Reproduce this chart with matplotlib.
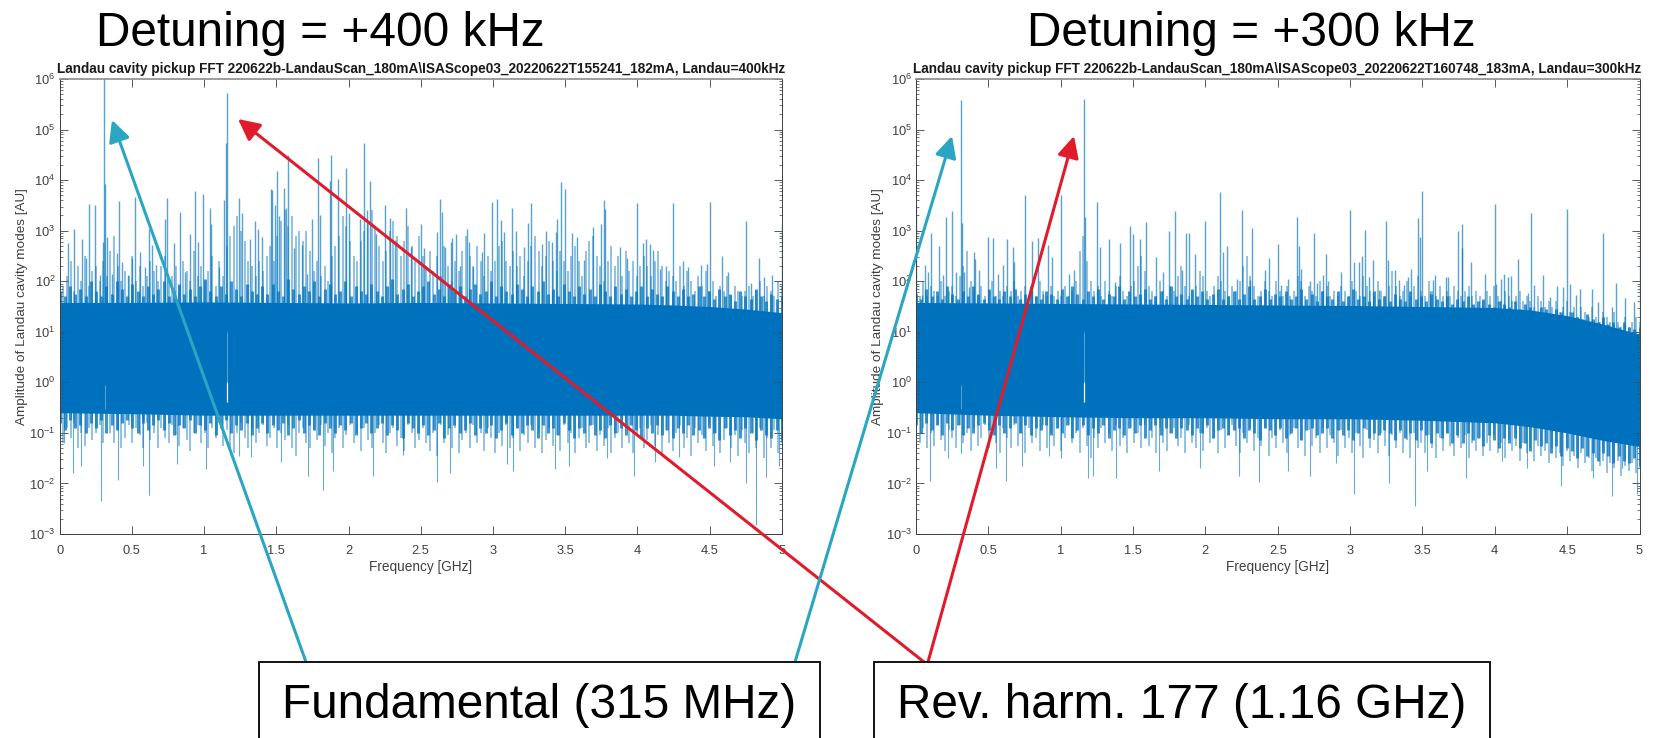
"""Landau cavity pickup FFT, two detunings, with slide annotations on top."""

import matplotlib

matplotlib.use("Agg", force=True)
import matplotlib.pyplot as plt
import numpy as np
from matplotlib.patches import FancyArrowPatch, Rectangle
from matplotlib.ticker import LogFormatterMathtext, LogLocator, NullFormatter

W, H = 1653, 738
BLUE = "#0072BD"
TEAL = "#2BA6C2"
RED = "#E01C2C"
GREY = "#404040"

plt.rcParams["font.family"] = ["Liberation Sans", "DejaVu Sans"]
plt.rcParams["mathtext.fontset"] = "custom"
plt.rcParams["mathtext.rm"] = "Liberation Sans"
plt.rcParams["mathtext.default"] = "regular"

# amplitudes are kept as log10(AU), read against the decade ticks
left_peak_f = [
    0.06, 0.10, 0.152, 0.18, 0.203, 0.245, 0.28, 0.30, 0.31, 0.314, 0.326, 0.36, 0.395, 0.413, 0.43, 0.47,
    0.50, 0.524, 0.557, 0.59, 0.62, 0.64, 0.67, 0.73, 0.746, 0.795, 0.836, 0.87, 0.905, 0.938, 0.956, 0.995,
    1.04, 1.05, 1.10, 1.14, 1.152, 1.157, 1.245, 1.26, 1.32, 1.355, 1.37, 1.40, 1.46, 1.473, 1.49, 1.505,
    1.52, 1.55, 1.565, 1.584, 1.625, 1.68, 1.71, 1.75, 1.787, 1.80, 1.87, 1.88, 1.925, 1.984, 2.0, 2.08,
    2.104, 2.125, 2.15, 2.19, 2.25, 2.29, 2.32, 2.40, 2.43, 2.5, 2.52, 2.61, 2.634, 2.65, 2.67, 2.71,
    2.72, 2.745, 2.77, 2.82, 2.835, 2.86, 2.925, 2.94, 2.996, 3.027, 3.056, 3.076, 3.13, 3.16, 3.215, 3.245,
    3.265, 3.34, 3.37, 3.41, 3.435, 3.447, 3.47, 3.5, 3.546, 3.58, 3.63, 3.69, 3.75, 3.77, 3.777, 3.88,
    3.93, 4.0, 4.04, 4.06, 4.09, 4.11, 4.16, 4.2, 4.25, 4.315, 4.35, 4.44, 4.48, 4.5, 4.59, 4.63,
    4.75, 4.79, 4.84, 4.88, 4.93, 5.0,
]
left_peak_exp = [
    2.75, 3.04, 2.84, 2.45, 3.52, 3.5, 2.12, 2.78, 6.1, 3.93, 2.88, 2.15, 2.55, 3.58, 2.38, 2.12,
    2.45, 3.66, 2.58, 2.28, 3.04, 2.71, 2.32, 3.23, 3.65, 2.76, 3.37, 2.18, 2.93, 3.78, 2.78, 3.72,
    3.45, 3.14, 2.28, 3.6, 4.73, 5.72, 3.64, 3.34, 2.84, 3.2, 3.04, 2.88, 3.82, 3.8, 3.5, 4.18,
    3.3, 3.85, 3.44, 4.5, 2.65, 2.71, 2.15, 3.23, 4.43, 3.31, 3.98, 4.5, 4.03, 4.23, 3.34, 3.24,
    4.73, 3.41, 3.99, 2.94, 3.5, 3.25, 2.81, 3.44, 2.68, 3.14, 2.66, 2.98, 3.62, 3.36, 2.67, 2.78,
    2.86, 2.93, 2.3, 3.04, 2.77, 2.28, 2.57, 2.96, 3.56, 3.62, 3.22, 2.98, 3.45, 3.0, 2.67, 3.16,
    3.54, 2.73, 3.0, 2.78, 2.98, 3.24, 3.96, 3.83, 2.96, 2.87, 2.42, 3.08, 3.13, 3.6, 3.42, 2.67,
    2.46, 3.54, 2.75, 2.84, 2.73, 2.61, 2.25, 2.3, 3.54, 2.4, 2.29, 2.33, 2.34, 3.57, 2.5, 2.18,
    3.19, 1.97, 2.45, 2.09, 2.13, 3.14,
]
left_grass_exp = [
    2.2, 1.9, 2.1, 2.4, 1.8, 2.3, 2.0, 2.5, 1.9, 2.2, 2.3, 2.0, 2.4, 2.1, 2.6, 2.9, 2.3, 2.0, 2.2, 2.1,
    2.5, 2.0, 2.3, 1.9, 2.1, 2.4, 2.2, 2.0, 2.3, 2.5, 2.0, 2.1, 2.3, 1.9, 2.4, 2.2, 2.0, 2.6, 2.1, 2.3,
    2.0, 2.2, 2.5, 1.9, 2.4, 2.1, 2.7, 2.9, 3.1, 3.3, 3.0, 2.8, 2.4, 2.3, 2.1, 2.4, 2.2, 2.5, 2.7, 2.4,
    2.9, 3.2, 3.4, 3.1, 3.3, 2.9, 3.0, 2.8, 3.0, 2.6, 2.2, 2.4, 2.1, 2.3, 2.0, 2.5, 2.7, 2.9, 3.3, 3.1,
    2.8, 2.5, 2.4, 2.8, 3.0, 3.2, 3.4, 3.1, 2.7, 2.4, 2.6, 3.0, 3.2, 2.9, 2.5, 2.8, 3.1, 2.7, 2.4, 2.9,
    2.5, 2.3, 2.6, 2.2, 2.5, 2.1, 2.7, 2.3, 2.0, 2.4, 2.2, 2.6, 2.9, 2.5, 2.3, 2.7, 2.4, 2.1, 2.5, 2.2,
    2.4, 2.7, 2.8, 2.4, 2.3, 2.6, 2.3, 2.5, 2.1, 2.4, 2.7, 2.9, 2.6, 2.3, 2.5, 2.8, 2.4, 2.2, 2.6, 2.4,
    2.2, 2.5, 2.7, 2.4, 2.1, 2.6, 2.8, 2.9, 2.5, 2.3, 2.0, 2.4, 2.7, 2.3, 2.5, 2.1, 2.6, 2.2, 2.4, 2.1,
    2.3, 2.5, 2.3, 2.1, 2.4, 2.6, 2.3, 2.0, 2.2, 2.1, 2.0, 2.3, 1.9, 2.2, 2.0, 1.8, 2.1, 1.9, 2.2, 1.8,
    2.0, 1.7, 1.9, 1.8, 2.1, 1.7, 1.9, 1.8, 1.7, 1.8, 1.9, 1.7, 1.8, 2.0, 1.7, 1.9, 1.8, 1.7, 2.0, 1.9,
]
left_top_fuzz = [
    1.8, 1.7, 1.9, 1.75, 1.85, 1.7, 2.0, 1.8, 1.7, 1.9, 1.75, 2.0, 1.85, 1.7, 1.95, 1.8, 1.7, 1.9, 1.75, 1.85,
    2.0, 1.7, 1.8, 1.95, 1.75, 1.85, 1.7, 1.9, 2.05, 1.8, 1.7, 1.9, 1.75, 2.0, 1.85, 1.7, 1.95, 1.8, 1.75, 1.9,
    1.75, 1.95, 1.8, 1.7, 2.05, 1.85, 1.75, 1.9, 1.8, 2.0, 1.7, 1.85, 1.95, 1.75, 1.8, 2.0, 1.7, 1.9, 1.8, 1.75,
    1.95, 1.8, 1.7, 1.9, 2.05, 1.75, 1.85, 1.95, 1.7, 1.8, 1.9, 2.0, 1.75, 1.85, 1.7, 1.95, 1.8, 1.9, 1.7, 1.85,
    1.95, 1.75, 1.8, 2.0, 1.7, 1.9, 1.8, 1.75, 1.95, 1.85, 1.7, 1.9, 1.8, 2.0, 1.75, 1.85, 1.7, 1.95, 1.8, 1.7,
    1.9, 1.75, 1.85, 1.7, 1.95, 1.8, 1.7, 1.9, 1.75, 1.85, 1.7, 1.8, 1.9, 1.7, 1.85, 1.75, 1.7, 1.9, 1.8, 1.7,
    1.85, 1.7, 1.75, 1.9, 1.7, 1.8, 1.65, 1.85, 1.7, 1.75, 1.6, 1.8, 1.7, 1.65, 1.85, 1.7, 1.6, 1.75, 1.65, 1.7,
]
left_dip_f = [
    0.03, 0.09, 0.15, 0.286, 0.405, 0.58, 0.62, 0.81, 1.01, 1.24, 1.325, 1.53, 1.72, 1.82, 1.89, 2.17,
    2.38, 2.61, 2.70, 3.10, 3.14, 3.43, 3.53, 3.79, 3.98, 4.12, 4.29, 4.53, 4.64, 4.75, 4.82, 4.89, 4.98,
]
left_dip_exp = [
    -1.2, -1.8, -1.65, -2.35, -1.93, -1.66, -2.23, -1.62, -1.72, -1.46, -1.48, -1.57, -1.85, -2.13, -1.75, -1.85,
    -1.43, -1.97, -1.8, -1.62, -1.75, -1.72, -1.66, -1.5, -1.85, -1.57, -1.48, -1.66, -1.57, -2.0, -2.82, -1.87, -1.66,
]
left_low_exp = [
    -1.0, -1.2, -0.9, -1.1, -0.8, -1.3, -1.0, -1.25, -0.9, -1.15, -1.0, -0.85, -1.2, -0.6, -1.0, -1.2, -0.95, -1.3, -1.1, -0.85,
    -1.2, -0.9, -1.05, -1.3, -0.8, -1.15, -1.0, -1.3, -0.9, -1.1, -1.2, -0.85, -1.05, -1.25, -0.9, -1.15, -1.35, -1.0, -0.85, -1.2,
    -1.0, -1.3, -0.9, -1.1, -0.8, -1.25, -0.95, -1.3, -1.4, -1.0, -0.8, -1.1, -1.3, -0.9, -1.2, -1.0, -0.85, -1.25, -1.1, -0.9,
    -1.3, -1.0, -1.15, -0.85, -1.3, -1.45, -1.0, -0.9, -1.2, -1.3, -0.95, -1.15, -0.85, -1.25, -1.0, -1.4, -1.1, -0.9, -1.3, -1.05,
    -0.85, -1.2, -1.0, -1.35, -0.9, -1.15, -1.3, -1.0, -0.85, -1.2, -1.4, -1.0, -0.9, -1.25, -1.1, -1.35, -0.85, -1.0, -1.3, -1.15,
    -0.9, -1.2, -1.35, -1.0, -1.45, -0.85, -1.2, -1.05, -1.3, -0.9, -1.4, -1.15, -1.0, -1.3, -0.85, -1.2, -1.0, -1.35, -0.9, -1.1,
    -1.4, -1.0, -1.25, -0.85, -1.3, -1.1, -0.9, -1.35, -1.05, -1.2, -0.85, -1.3, -1.0, -1.4, -1.15, -0.9, -1.25, -1.05, -1.35, -0.85,
    -1.2, -1.0, -1.4, -1.1, -0.9, -1.3, -1.2, -0.85, -1.35, -1.05, -1.25, -0.9, -1.4, -1.1, -1.0, -1.3, -0.85, -1.2, -1.4, -1.0,
    -0.9, -1.3, -1.15, -0.85, -1.25, -1.05, -1.4, -0.95, -1.2, -1.35, -1.0, -0.85, -1.3, -1.1, -1.45, -0.9, -1.2, -1.05, -1.35, -0.85,
    -1.25, -1.0, -1.4, -1.15, -0.9, -1.3, -1.05, -1.45, -0.95, -1.2, -1.4, -1.0, -1.3, -0.9, -1.5, -1.1, -1.3, -0.95, -1.4, -1.2,
]
left_low_fuzz = [
    -0.8, -0.95, -0.75, -0.9, -0.85, -1.0, -0.8, -0.9, -0.75, -1.0, -0.85, -0.95, -0.8, -0.75, -0.9, -1.0, -0.8, -0.95, -0.85, -0.75,
    -0.95, -0.8, -1.05, -0.85, -0.9, -0.75, -1.0, -0.85, -0.95, -0.8, -1.05, -0.9, -0.75, -1.0, -0.85, -0.95, -0.8, -1.05, -0.9, -0.8,
    -1.0, -0.85, -0.95, -0.8, -1.05, -0.9, -0.75, -1.0, -0.85, -0.95, -1.05, -0.8, -0.9, -1.0, -0.85, -0.95, -0.8, -1.05, -0.9, -0.8,
    -1.0, -0.9, -0.8, -1.05, -0.85, -0.95, -1.1, -0.8, -0.9, -1.0, -0.85, -1.05, -0.95, -0.8, -1.1, -0.9, -0.85, -1.0, -0.95, -0.8,
    -1.05, -0.9, -1.0, -0.85, -1.1, -0.95, -0.8, -1.05, -0.9, -1.0, -0.85, -0.95, -1.1, -0.85, -1.0, -0.9, -1.05, -0.8, -0.95, -1.1,
    -0.9, -1.0, -0.85, -1.05, -0.95, -1.1, -0.85, -1.0, -0.9, -1.05, -0.85, -0.95, -1.1, -0.9, -1.0, -0.85, -1.05, -0.95, -1.1, -0.9,
    -1.0, -0.85, -1.05, -0.95, -1.1, -0.9, -1.0, -1.15, -0.9, -1.05, -0.95, -1.1, -0.9, -1.0, -1.15, -0.95, -1.05, -1.1, -0.95, -1.15,
]

right_peak_f = [
    0.0, 0.04, 0.065, 0.085, 0.105, 0.157, 0.185, 0.21, 0.25, 0.275, 0.314, 0.316, 0.335, 0.365, 0.40, 0.41,
    0.435, 0.50, 0.53, 0.565, 0.60, 0.63, 0.667, 0.68, 0.75, 0.80, 0.84, 0.88, 0.91, 0.943, 1.0, 1.056,
    1.095, 1.16, 1.165, 1.25, 1.273, 1.333, 1.377, 1.41, 1.476, 1.5, 1.55, 1.587, 1.66, 1.71, 1.75, 1.79,
    1.835, 1.868, 1.885, 1.925, 2.0, 2.103, 2.12, 2.15, 2.22, 2.25, 2.31, 2.32, 2.41, 2.44, 2.5, 2.52,
    2.57, 2.634, 2.65, 2.66, 2.72, 2.75, 2.77, 2.815, 2.835, 2.85, 2.94, 3.0, 3.03, 3.06, 3.08, 3.105,
    3.13, 3.157, 3.2, 3.245, 3.265, 3.31, 3.335, 3.37, 3.4, 3.42, 3.466, 3.48, 3.5, 3.55, 3.57, 3.59,
    3.66, 3.68, 3.745, 3.77, 3.775, 3.835, 3.935, 4.0, 4.01, 4.04, 4.065, 4.09, 4.11, 4.16, 4.23, 4.25,
    4.27, 4.33, 4.38, 4.43, 4.47, 4.5, 4.52, 4.56, 4.59, 4.675, 4.71, 4.75, 4.81, 4.84, 4.9, 4.96, 5.0,
]
right_peak_exp = [
    3.5, 1.72, 2.32, 2.18, 2.96, 2.7, 2.13, 3.27, 3.39, 2.18, 5.58, 3.16, 2.18, 1.89, 2.58, 2.43,
    2.22, 2.88, 2.86, 2.15, 2.33, 2.83, 2.67, 2.38, 3.7, 2.79, 2.86, 1.75, 2.71, 2.48, 3.7, 2.15,
    2.22, 5.6, 3.27, 3.57, 2.67, 2.84, 1.99, 2.76, 3.09, 2.94, 2.83, 3.17, 2.47, 2.18, 3.0, 3.39,
    2.22, 2.96, 2.96, 2.53, 3.2, 3.76, 2.58, 2.7, 2.05, 3.41, 2.02, 3.06, 2.22, 2.45, 2.73, 1.93,
    2.05, 3.27, 2.7, 2.24, 2.0, 2.96, 1.97, 2.12, 2.53, 2.0, 2.18, 3.4, 2.38, 2.38, 2.5, 3.01,
    2.09, 2.42, 1.82, 3.2, 2.42, 2.22, 2.03, 1.93, 2.09, 2.25, 3.26, 2.88, 3.78, 1.8, 2.02, 2.13,
    2.09, 2.09, 3.0, 3.13, 2.65, 2.38, 2.15, 3.53, 1.95, 2.05, 2.14, 2.09, 2.1, 2.44, 1.76, 3.35,
    1.93, 2.13, 1.69, 1.91, 1.88, 3.42, 1.94, 1.72, 1.84, 1.84, 1.58, 2.96, 1.5, 1.96, 1.66, 1.59, 2.75,
]
right_grass_exp = [
    1.8, 1.7, 2.0, 1.7, 1.9, 1.8, 1.7, 2.0, 1.7, 1.8, 1.9, 1.7, 2.1, 2.3, 2.6, 2.0, 1.8, 1.7, 1.9, 1.7,
    1.8, 2.0, 1.7, 1.8, 1.7, 1.9, 1.8, 2.0, 1.7, 1.8, 1.9, 1.7, 1.8, 1.7, 2.0, 1.8, 1.7, 1.9, 1.7, 1.8,
    1.7, 1.9, 1.7, 1.8, 2.0, 2.6, 2.9, 2.4, 2.0, 1.8, 1.9, 1.7, 2.0, 1.8, 1.7, 1.9, 2.1, 1.8, 1.7, 1.9,
    2.0, 2.3, 2.5, 2.2, 1.9, 1.8, 1.7, 2.0, 1.8, 1.7, 1.9, 1.8, 2.1, 2.3, 1.9, 1.7, 1.8, 1.9, 2.2, 2.1,
    1.8, 1.7, 1.9, 2.1, 2.0, 1.8, 1.7, 1.9, 1.8, 2.0, 2.3, 2.5, 2.1, 1.9, 1.7, 1.8, 2.0, 1.8, 1.7, 2.0,
    1.8, 1.7, 1.9, 1.7, 1.8, 2.1, 2.0, 1.7, 1.9, 1.8, 1.7, 2.0, 1.8, 1.9, 1.7, 1.8, 1.7, 1.9, 1.8, 1.7,
    2.0, 1.8, 1.7, 2.1, 1.9, 1.8, 1.7, 2.0, 1.8, 1.7, 1.9, 2.2, 1.9, 1.7, 1.8, 2.0, 1.7, 1.9, 2.1, 1.8,
    1.7, 2.0, 1.8, 1.7, 1.9, 1.7, 1.8, 1.7, 1.9, 1.8, 1.7, 1.8, 1.9, 1.7, 1.8, 1.7, 1.6, 1.8, 1.7, 1.9,
    1.7, 1.6, 1.8, 1.7, 1.6, 1.7, 1.8, 1.6, 1.7, 1.6, 1.5, 1.7, 1.6, 1.5, 1.6, 1.5, 1.6, 1.4, 1.5, 1.6,
    1.4, 1.5, 1.3, 1.5, 1.4, 1.3, 1.5, 1.3, 1.2, 1.4, 1.3, 1.2, 1.4, 1.2, 1.1, 1.3, 1.1, 1.2, 1.3, 1.2,
]
right_top_fuzz = [
    1.75, 1.65, 1.85, 1.7, 1.8, 1.65, 1.9, 1.75, 1.65, 1.8, 1.7, 1.9, 1.75, 1.65, 1.85, 1.7, 1.65, 1.8, 1.7, 1.85,
    1.65, 1.75, 1.9, 1.7, 1.65, 1.8, 1.75, 1.65, 1.85, 1.7, 1.9, 1.75, 1.65, 1.8, 1.7, 1.85, 1.65, 1.75, 1.7, 1.9,
    1.65, 1.8, 1.7, 1.75, 1.85, 1.65, 1.7, 1.8, 1.65, 1.9, 1.7, 1.75, 1.65, 1.85, 1.7, 1.8, 1.65, 1.75, 1.85, 1.65,
    1.7, 1.8, 1.65, 1.75, 1.9, 1.65, 1.7, 1.85, 1.65, 1.75, 1.7, 1.8, 1.65, 1.7, 1.85, 1.65, 1.75, 1.6, 1.8, 1.7,
    1.65, 1.8, 1.6, 1.7, 1.85, 1.65, 1.7, 1.6, 1.8, 1.65, 1.7, 1.6, 1.75, 1.65, 1.6, 1.8, 1.65, 1.7, 1.6, 1.75,
    1.65, 1.6, 1.7, 1.55, 1.65, 1.6, 1.7, 1.55, 1.6, 1.65, 1.55, 1.5, 1.6, 1.55, 1.5, 1.6, 1.45, 1.55, 1.5, 1.4,
    1.5, 1.45, 1.35, 1.45, 1.4, 1.3, 1.4, 1.3, 1.25, 1.35, 1.25, 1.2, 1.3, 1.15, 1.2, 1.1, 1.2, 1.1, 1.05, 1.1,
]
right_dip_f = [
    0.1, 0.22, 0.31, 0.55, 0.62, 0.73, 0.92, 1.0, 1.19, 1.22, 1.38, 1.68, 1.96, 2.23, 2.37, 2.57,
    2.72, 2.9, 3.03, 3.27, 3.45, 3.53, 3.8, 4.05, 4.22, 4.46, 4.68, 4.81, 4.88, 4.98,
]
right_dip_exp = [
    -1.95, -1.5, -1.4, -1.7, -1.95, -1.65, -1.45, -1.5, -1.9, -1.85, -1.9, -1.75, -1.7, -1.85, -1.98, -1.75,
    -1.85, -1.6, -2.2, -2.0, -2.45, -1.75, -1.9, -1.55, -1.7, -2.05, -1.9, -2.25, -1.7, -2.2,
]
right_low_exp = [
    -1.1, -1.2, -0.9, -1.3, -1.0, -1.25, -0.85, -1.15, -1.35, -0.95, -1.1, -1.3, -0.85, -1.2, -1.0, -1.35, -0.9, -1.25, -1.1, -0.85,
    -1.3, -1.0, -1.2, -1.4, -0.9, -1.1, -1.3, -0.85, -1.25, -1.0, -1.4, -0.9, -1.2, -1.1, -1.35, -0.85, -1.3, -1.0, -1.25, -0.9,
    -1.35, -1.1, -0.85, -1.2, -1.0, -1.4, -0.9, -1.25, -1.5, -1.1, -1.3, -0.9, -1.2, -1.0, -1.35, -0.85, -1.25, -1.1, -1.4, -0.9,
    -1.2, -1.0, -1.3, -0.85, -1.25, -1.1, -1.4, -0.9, -1.2, -1.35, -1.0, -0.9, -1.25, -1.1, -1.4, -0.85, -1.2, -1.3, -1.0, -1.35,
    -0.9, -1.2, -1.1, -1.4, -0.95, -1.3, -1.05, -0.85, -1.25, -1.4, -1.0, -1.2, -0.9, -1.35, -1.1, -1.25, -0.9, -1.45, -1.1, -1.3,
    -0.95, -1.2, -1.4, -1.05, -0.9, -1.3, -1.15, -1.45, -0.95, -1.25, -1.1, -1.4, -0.9, -1.3, -1.05, -1.2, -1.45, -0.95, -1.3, -1.1,
    -1.4, -1.0, -1.25, -1.5, -0.95, -1.3, -1.15, -1.4, -1.0, -1.25, -1.45, -1.05, -1.3, -1.0, -1.4, -1.15, -1.5, -1.0, -1.3, -1.2,
    -1.4, -1.05, -1.3, -1.5, -1.1, -1.35, -1.0, -1.25, -1.45, -1.1, -1.3, -1.05, -1.5, -1.2, -1.35, -1.1, -1.45, -1.2, -1.35, -1.05,
    -1.4, -1.2, -1.5, -1.15, -1.35, -1.25, -1.55, -1.2, -1.4, -1.3, -1.55, -1.25, -1.45, -1.35, -1.6, -1.3, -1.5, -1.4, -1.65, -1.35,
    -1.55, -1.45, -1.7, -1.4, -1.6, -1.5, -1.75, -1.5, -1.65, -1.55, -1.8, -1.6, -1.7, -1.55, -1.85, -1.65, -1.75, -1.6, -1.8, -1.7,
]
right_low_fuzz = [
    -0.85, -1.0, -0.8, -0.95, -0.85, -1.05, -0.8, -0.95, -0.85, -1.05, -0.9, -1.0, -0.85, -0.8, -0.95, -1.05, -0.85, -1.0, -0.9, -0.8,
    -1.0, -0.85, -1.05, -0.9, -0.95, -0.85, -1.05, -0.9, -1.0, -0.85, -1.1, -0.95, -0.85, -1.05, -0.9, -1.0, -0.85, -1.1, -0.95, -0.9,
    -1.05, -0.9, -1.0, -0.85, -1.1, -0.95, -0.85, -1.05, -0.9, -1.0, -1.1, -0.9, -0.95, -1.05, -0.9, -1.0, -0.85, -1.1, -0.95, -0.9,
    -1.05, -0.95, -0.9, -1.1, -0.95, -1.0, -1.15, -0.9, -0.95, -1.05, -0.9, -1.1, -1.0, -0.9, -1.15, -0.95, -0.9, -1.05, -1.0, -0.9,
    -1.1, -0.95, -1.05, -0.95, -1.15, -1.0, -0.9, -1.1, -1.0, -1.05, -0.95, -1.0, -1.15, -0.95, -1.1, -1.0, -1.15, -0.95, -1.05, -1.2,
    -1.0, -1.1, -1.0, -1.2, -1.05, -1.2, -1.0, -1.15, -1.1, -1.25, -1.05, -1.15, -1.3, -1.1, -1.2, -1.1, -1.3, -1.2, -1.35, -1.15,
    -1.25, -1.2, -1.4, -1.25, -1.45, -1.3, -1.35, -1.5, -1.3, -1.45, -1.4, -1.55, -1.4, -1.45, -1.6, -1.45, -1.55, -1.6, -1.5, -1.65,
]

band_f = [0.0, 0.5, 1.0, 1.5, 2.0, 2.5, 3.0, 3.5, 4.0, 4.25, 4.5, 4.75, 5.0]
left_band_top = [1.58, 1.58, 1.59, 1.58, 1.57, 1.58, 1.57, 1.56, 1.55, 1.53, 1.5, 1.45, 1.38]
left_band_low = [-0.6, -0.62, -0.65, -0.65, -0.65, -0.65, -0.65, -0.65, -0.65, -0.65, -0.67, -0.68, -0.72]
right_band_top = [1.58, 1.57, 1.56, 1.55, 1.54, 1.53, 1.52, 1.5, 1.48, 1.43, 1.32, 1.15, 0.95]
right_band_low = [-0.6, -0.65, -0.68, -0.7, -0.7, -0.72, -0.72, -0.75, -0.8, -0.88, -1.0, -1.15, -1.27]

x_ticks = [0, 0.5, 1, 1.5, 2, 2.5, 3, 3.5, 4, 4.5, 5]
x_tick_labels = ["0", "0.5", "1", "1.5", "2", "2.5", "3", "3.5", "4", "4.5", "5"]

panels = [
    {
        "rect": (59.7, 79, 781.7, 534),
        "peak_f": left_peak_f, "peak_exp": left_peak_exp, "grass": left_grass_exp, "top_fuzz": left_top_fuzz,
        "dip_f": left_dip_f, "dip_exp": left_dip_exp, "low": left_low_exp, "low_fuzz": left_low_fuzz,
        "band_top": left_band_top, "band_low": left_band_low,
        "title": r"Landau cavity pickup FFT 220622b-LandauScan_180mA\ISAScope03_20220622T155241_182mA, Landau=400kHz",
        "title_x": 421,
    },
    {
        "rect": (916, 79, 1639.5, 534),
        "peak_f": right_peak_f, "peak_exp": right_peak_exp, "grass": right_grass_exp, "top_fuzz": right_top_fuzz,
        "dip_f": right_dip_f, "dip_exp": right_dip_exp, "low": right_low_exp, "low_fuzz": right_low_fuzz,
        "band_top": right_band_top, "band_low": right_band_low,
        "title": r"Landau cavity pickup FFT 220622b-LandauScan_180mA\ISAScope03_20220622T160748_183mA, Landau=300kHz",
        "title_x": 1277.5,
    },
]

headings = [("Detuning = +400 kHz", 320), ("Detuning = +300 kHz", 1251)]
boxes = [(259, 820, "Fundamental (315 MHz)"), (874, 1490, "Rev. harm. 177 (1.16 GHz)")]
arrows = [
    ((306, 662), (112, 120), TEAL),
    ((924, 662), (238, 119), RED),
    ((795, 662), (952, 136), TEAL),
    ((928, 662), (1074, 136), RED),
]


def spikes(ax, values, base, lw, alpha):
    f = np.linspace(0, 5, len(values))
    ax.vlines(f, base, 10.0 ** np.array(values), color=BLUE, lw=lw, alpha=alpha)


def draw_panel(fig, p):
    x0, y0, x1, y1 = p["rect"]
    ax = fig.add_axes([x0 / W, 1 - y1 / H, (x1 - x0) / W, (y1 - y0) / H])
    ax.set_yscale("log")
    ax.set_xlim(0, 5)
    ax.set_ylim(1e-3, 1e6)

    spikes(ax, p["grass"], 1, 1.1, 0.55)
    spikes(ax, p["top_fuzz"], 1, 2.2, 0.75)
    spikes(ax, p["low"], 1, 1.1, 0.55)
    spikes(ax, p["low_fuzz"], 1, 2.2, 0.75)
    ax.vlines(p["peak_f"], 1, 10.0 ** np.array(p["peak_exp"]), color=BLUE, lw=1.0, alpha=0.65)
    ax.vlines(p["dip_f"], 10.0 ** np.array(p["dip_exp"]), 1, color=BLUE, lw=0.8, alpha=0.6)
    ax.fill_between(band_f, 10.0 ** np.array(p["band_low"]), 10.0 ** np.array(p["band_top"]), color=BLUE, lw=0)

    # the carrier lines leave a pale streak inside the noise band
    ax.vlines([1.16], 0.4, 1.0, color="white", lw=0.9)
    ax.vlines([1.16], 1.0, 10.0, color="white", lw=0.7, alpha=0.35)
    ax.vlines([0.312], 0.3, 0.9, color="white", lw=0.7, alpha=0.35)

    ax.set_xticks(x_ticks)
    ax.set_xticklabels(x_tick_labels)
    ax.yaxis.set_major_locator(LogLocator(base=10, numticks=12))
    ax.yaxis.set_major_formatter(LogFormatterMathtext())
    ax.yaxis.set_minor_locator(LogLocator(base=10, subs=range(2, 10), numticks=12))
    ax.yaxis.set_minor_formatter(NullFormatter())
    ax.tick_params(which="major", direction="in", top=True, right=True, length=5.5, width=0.6,
                   color=GREY, labelcolor=GREY, labelsize=9.3)
    ax.tick_params(axis="x", which="major", pad=8)
    ax.tick_params(axis="y", which="major", pad=3)
    ax.tick_params(which="minor", direction="in", right=True, length=2.5, width=0.5, color=GREY)
    for spine in ax.spines.values():
        spine.set_color(GREY)
        spine.set_linewidth(0.7)
    ax.spines["top"].set_linewidth(1.2)
    ax.spines["top"].set_color("#8c8c8c")

    ax.set_xlabel("Frequency [GHz]", fontsize=9.8, color=GREY, labelpad=2)
    ax.set_ylabel("Amplitude of Landau cavity modes [AU]", fontsize=9.7, color=GREY, labelpad=1)
    fig.text(p["title_x"] / W, 1 - 69 / H, p["title"], ha="center", va="center",
             fontsize=9.82, fontweight="bold", color="#1a1a1a")
    return ax


def draw_slide_layer(fig):
    top = fig.add_axes([0, 0, 1, 1], zorder=10)
    top.set_xlim(0, W)
    top.set_ylim(H, 0)
    top.axis("off")
    top.patch.set_alpha(0)

    for start, tip, color in arrows:
        top.add_patch(FancyArrowPatch(start, tip, arrowstyle="-|>,head_length=13,head_width=6.5",
                                      mutation_scale=1, color=color, lw=2.2, shrinkA=0, shrinkB=0))
    for left, right, label in boxes:
        top.add_patch(Rectangle((left, 662), right - left, 90, fc="white", ec="black", lw=1.3, clip_on=True))
        top.text((left + right) / 2, 706, label, ha="center", va="center", fontsize=34.4, color="black")
    for label, cx in headings:
        top.text(cx, 46, label, ha="center", va="baseline", fontsize=34.4, color="black")


def main():
    fig = plt.figure(figsize=(W / 100, H / 100), dpi=100)
    for p in panels:
        draw_panel(fig, p)
    draw_slide_layer(fig)
    fig.savefig("out.png", dpi=100)
    plt.close(fig)


if __name__ == "__main__":
    main()
